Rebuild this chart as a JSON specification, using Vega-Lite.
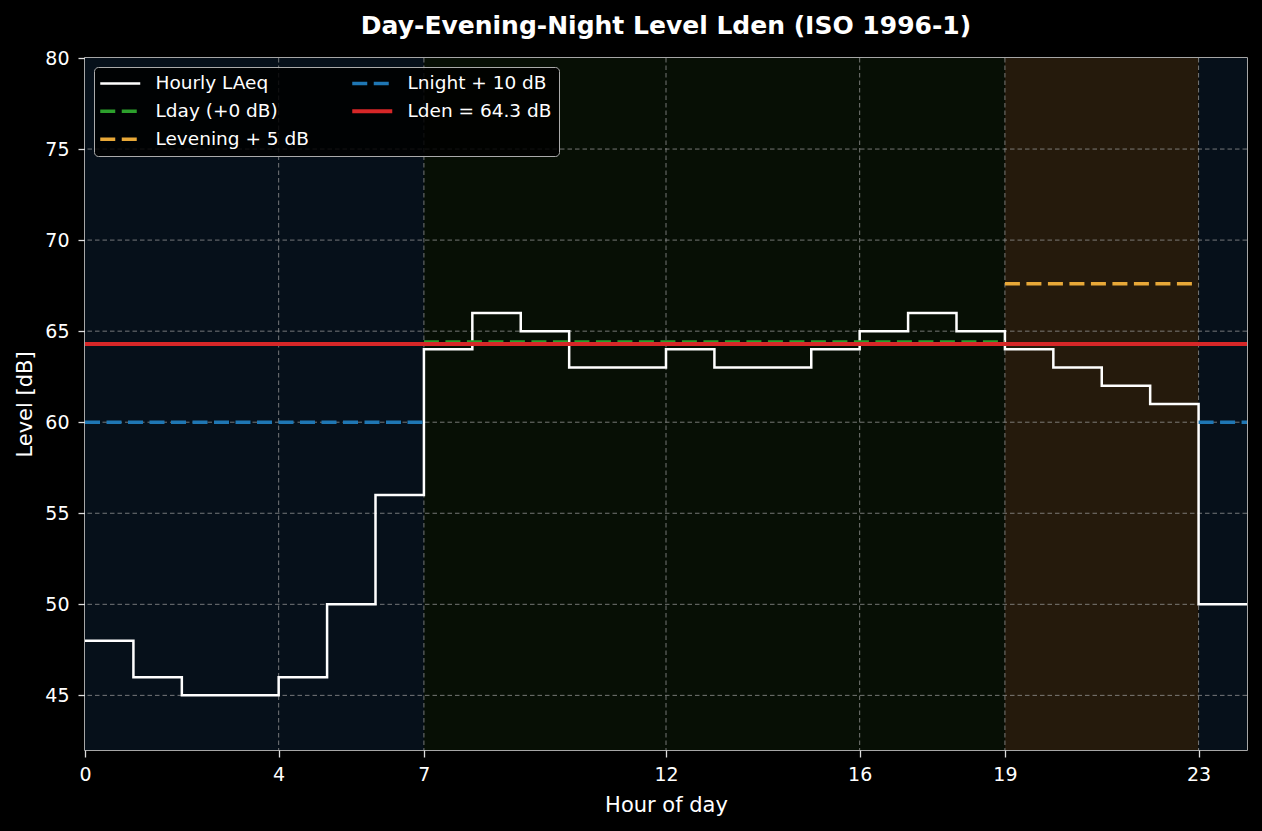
{
  "$schema": "https://vega.github.io/schema/vega-lite/v6.json",
  "autosize": "none",
  "width": 1162,
  "height": 692,
  "padding": {"left": 85, "top": 58, "right": 15, "bottom": 81},
  "background": "#000000",
  "title": {
    "text": "Day-Evening-Night Level Lden (ISO 1996-1)",
    "font": "DejaVu Sans",
    "fontSize": 25,
    "fontWeight": "bold",
    "color": "#ffffff",
    "anchor": "middle",
    "offset": 10
  },
  "config": {
    "view": {"stroke": "#dddddd", "strokeWidth": 1.5},
    "axis": {
      "domain": false,
      "grid": false,
      "tickColor": "#dddddd",
      "tickWidth": 1.3,
      "tickSize": 7,
      "labelFont": "DejaVu Sans",
      "labelFontSize": 19,
      "labelColor": "#ffffff",
      "labelFlush": false,
      "titleFont": "DejaVu Sans",
      "titleFontSize": 21,
      "titleFontWeight": "normal",
      "titleColor": "#ffffff"
    },
    "axisX": {"labelPadding": 8, "titlePadding": 10},
    "axisY": {"labelPadding": 9, "titlePadding": 9},
    "legend": {
      "orient": "top-left",
      "offset": 9,
      "columns": 2,
      "symbolType": "M-1,0H3",
      "symbolSize": 400,
      "labelFont": "DejaVu Sans",
      "labelFontSize": 18.5,
      "labelColor": "#ffffff",
      "labelOffset": 36,
      "labelLimit": 400,
      "rowPadding": 9,
      "columnPadding": 35,
      "padding": 7,
      "fillColor": "rgba(0,0,0,0.85)",
      "strokeColor": "#aaaaaa",
      "cornerRadius": 4
    }
  },
  "datasets": {
    "bands": [
      {"start": 0, "end": 7, "period": "night"},
      {"start": 7, "end": 19, "period": "day"},
      {"start": 19, "end": 23, "period": "evening"},
      {"start": 23, "end": 24, "period": "night"}
    ],
    "xgrid": [{"v": 4}, {"v": 7}, {"v": 12}, {"v": 16}, {"v": 19}, {"v": 23}],
    "ygrid": [{"v": 45}, {"v": 50}, {"v": 55}, {"v": 60}, {"v": 65}, {"v": 70}, {"v": 75}],
    "hourly": [
      {"hour": 0, "level": 48, "series": "Hourly LAeq"},
      {"hour": 1, "level": 46, "series": "Hourly LAeq"},
      {"hour": 2, "level": 45, "series": "Hourly LAeq"},
      {"hour": 3, "level": 45, "series": "Hourly LAeq"},
      {"hour": 4, "level": 46, "series": "Hourly LAeq"},
      {"hour": 5, "level": 50, "series": "Hourly LAeq"},
      {"hour": 6, "level": 56, "series": "Hourly LAeq"},
      {"hour": 7, "level": 64, "series": "Hourly LAeq"},
      {"hour": 8, "level": 66, "series": "Hourly LAeq"},
      {"hour": 9, "level": 65, "series": "Hourly LAeq"},
      {"hour": 10, "level": 63, "series": "Hourly LAeq"},
      {"hour": 11, "level": 63, "series": "Hourly LAeq"},
      {"hour": 12, "level": 64, "series": "Hourly LAeq"},
      {"hour": 13, "level": 63, "series": "Hourly LAeq"},
      {"hour": 14, "level": 63, "series": "Hourly LAeq"},
      {"hour": 15, "level": 64, "series": "Hourly LAeq"},
      {"hour": 16, "level": 65, "series": "Hourly LAeq"},
      {"hour": 17, "level": 66, "series": "Hourly LAeq"},
      {"hour": 18, "level": 65, "series": "Hourly LAeq"},
      {"hour": 19, "level": 64, "series": "Hourly LAeq"},
      {"hour": 20, "level": 63, "series": "Hourly LAeq"},
      {"hour": 21, "level": 62, "series": "Hourly LAeq"},
      {"hour": 22, "level": 61, "series": "Hourly LAeq"},
      {"hour": 23, "level": 50, "series": "Hourly LAeq"},
      {"hour": 24, "level": 50, "series": "Hourly LAeq"}
    ],
    "refs": [
      {"series": "Lday (+0 dB)", "seg": "d", "hour": 7, "level": 64.4},
      {"series": "Lday (+0 dB)", "seg": "d", "hour": 19, "level": 64.4},
      {"series": "Levening + 5 dB", "seg": "e", "hour": 19, "level": 67.6},
      {"series": "Levening + 5 dB", "seg": "e", "hour": 23, "level": 67.6},
      {"series": "Lnight + 10 dB", "seg": "n1", "hour": 0, "level": 60.0},
      {"series": "Lnight + 10 dB", "seg": "n1", "hour": 7, "level": 60.0},
      {"series": "Lnight + 10 dB", "seg": "n2", "hour": 23, "level": 60.0},
      {"series": "Lnight + 10 dB", "seg": "n2", "hour": 24, "level": 60.0}
    ],
    "lden": [
      {"series": "Lden = 64.3 dB", "seg": "l", "hour": 0, "level": 64.3},
      {"series": "Lden = 64.3 dB", "seg": "l", "hour": 24, "level": 64.3}
    ]
  },
  "layer": [
    {
      "data": {"name": "bands"},
      "mark": {"type": "rect"},
      "encoding": {
        "x": {"field": "start", "type": "quantitative", "scale": {"domain": [0, 24], "nice": false, "zero": false}, "axis": {"values": [0, 4, 7, 12, 16, 19, 23]}, "title": "Hour of day"},
        "x2": {"field": "end"},
        "fill": {"field": "period", "type": "nominal", "scale": {"domain": ["night", "day", "evening"], "range": ["#06101a", "#070f05", "#251a0c"]}, "legend": null}
      }
    },
    {
      "data": {"name": "xgrid"},
      "mark": {"type": "rule", "color": "#999999", "opacity": 0.75, "strokeWidth": 1, "strokeDash": [4.5, 3]},
      "encoding": {
        "x": {"field": "v", "type": "quantitative", "scale": {"domain": [0, 24], "nice": false, "zero": false}, "axis": {"values": [0, 4, 7, 12, 16, 19, 23]}, "title": "Hour of day"}
      }
    },
    {
      "data": {"name": "ygrid"},
      "mark": {"type": "rule", "color": "#999999", "opacity": 0.75, "strokeWidth": 1, "strokeDash": [4.5, 3]},
      "encoding": {
        "y": {"field": "v", "type": "quantitative", "scale": {"domain": [42, 80], "nice": false, "zero": false}, "axis": {"values": [45, 50, 55, 60, 65, 70, 75, 80]}, "title": "Level [dB]"}
      }
    },
    {
      "data": {"name": "hourly"},
      "mark": {"type": "line", "interpolate": "step-after", "strokeWidth": 2.5},
      "encoding": {
        "x": {"field": "hour", "type": "quantitative", "scale": {"domain": [0, 24], "nice": false, "zero": false}, "axis": {"values": [0, 4, 7, 12, 16, 19, 23]}, "title": "Hour of day"},
        "y": {"field": "level", "type": "quantitative", "scale": {"domain": [42, 80], "nice": false, "zero": false}, "axis": {"values": [45, 50, 55, 60, 65, 70, 75, 80]}, "title": "Level [dB]"},
        "color": {
          "field": "series", "type": "nominal",
          "scale": {"domain": ["Hourly LAeq", "Lday (+0 dB)", "Levening + 5 dB", "Lnight + 10 dB", "Lden = 64.3 dB"], "range": ["#ffffff", "#2ca02c", "#e8a838", "#1f77b4", "#d62728"]},
          "title": null,
          "legend": {"encode": {"symbols": {"update": {"strokeWidth": {"signal": "datum.value === 'Lden = 64.3 dB' ? 4 : datum.value === 'Hourly LAeq' ? 2.5 : 3.5"}}}}}
        },
        "strokeDash": {"field": "series", "type": "nominal", "scale": {"domain": ["Hourly LAeq", "Lday (+0 dB)", "Levening + 5 dB", "Lnight + 10 dB", "Lden = 64.3 dB"], "range": [[1, 0], [15, 6.5], [15, 6.5], [15, 6.5], [1, 0]]}, "title": null}
      }
    },
    {
      "data": {"name": "refs"},
      "mark": {"type": "line", "strokeWidth": 3.5},
      "encoding": {
        "x": {"field": "hour", "type": "quantitative", "scale": {"domain": [0, 24], "nice": false, "zero": false}, "axis": {"values": [0, 4, 7, 12, 16, 19, 23]}, "title": "Hour of day"},
        "y": {"field": "level", "type": "quantitative", "scale": {"domain": [42, 80], "nice": false, "zero": false}, "axis": {"values": [45, 50, 55, 60, 65, 70, 75, 80]}, "title": "Level [dB]"},
        "detail": {"field": "seg", "type": "nominal"},
        "color": {"field": "series", "type": "nominal", "title": null},
        "strokeDash": {"field": "series", "type": "nominal", "title": null}
      }
    },
    {
      "data": {"name": "lden"},
      "mark": {"type": "line", "strokeWidth": 4},
      "encoding": {
        "x": {"field": "hour", "type": "quantitative", "scale": {"domain": [0, 24], "nice": false, "zero": false}, "axis": {"values": [0, 4, 7, 12, 16, 19, 23]}, "title": "Hour of day"},
        "y": {"field": "level", "type": "quantitative", "scale": {"domain": [42, 80], "nice": false, "zero": false}, "axis": {"values": [45, 50, 55, 60, 65, 70, 75, 80]}, "title": "Level [dB]"},
        "color": {"field": "series", "type": "nominal", "title": null},
        "strokeDash": {"field": "series", "type": "nominal", "title": null}
      }
    }
  ]
}
